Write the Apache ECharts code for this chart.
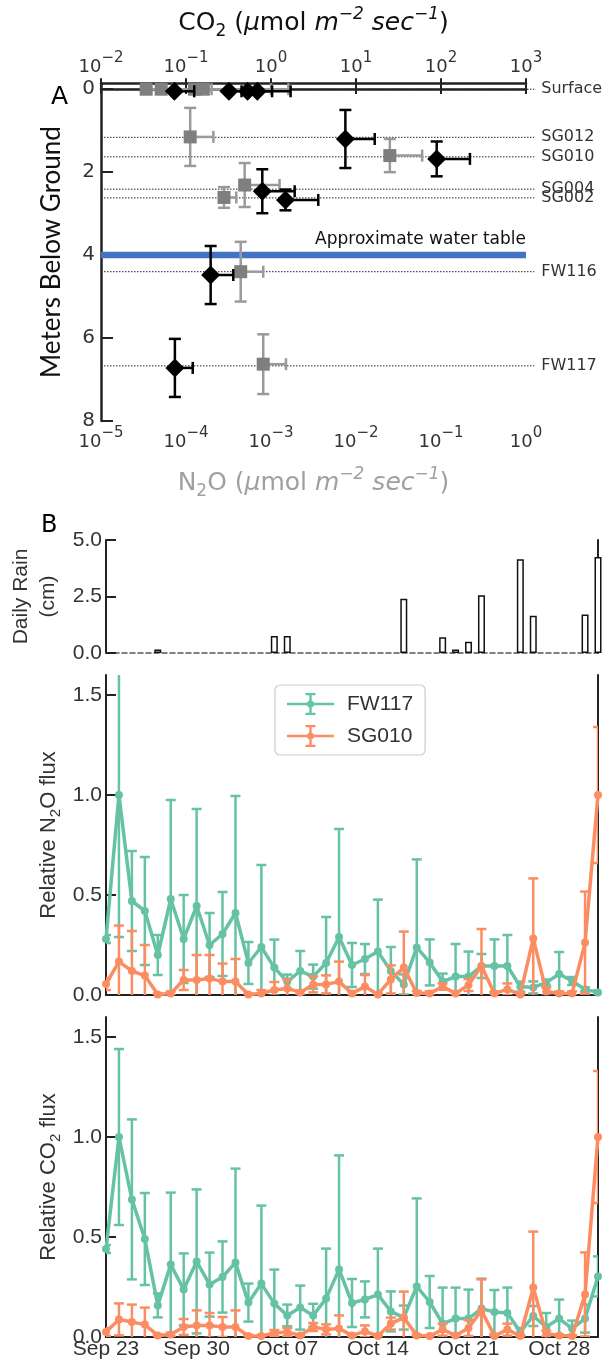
<!DOCTYPE html>
<html>
<head>
<meta charset="utf-8">
<script src="https://cdn.jsdelivr.net/npm/echarts@6/dist/echarts.min.js"></script>
<style>
html, body { margin: 0; padding: 0; background: #fff; }
#chart { width: 609px; height: 1364px; }
</style>
</head>
<body>
<div id="chart"></div>
<script>
// ---- panel A : flux vs depth ----
const wellNames = ['Surface', 'SG012', 'SG010', 'SG004', 'SG002', 'FW116', 'FW117'];
const wellDepths = [0, 1.16, 1.63, 2.41, 2.62, 4.4, 6.67];
const waterTableDepth = 4.0;
const depthTicks = [0, 2, 4, 6, 8];

// black diamonds, CO2 (top axis)
const co2Depth = [0.05, 0.05, 0.05, 0.05, 1.2, 1.68, 2.46, 2.67, 4.48, 6.72];
const co2Flux = [0.073, 0.32, 0.53, 0.69, 7.5, 89, 0.79, 1.48, 0.195, 0.074];
const co2FluxHi = [0.125, 0.45, 1.03, 1.7, 16.6, 219, 1.9, 3.6, 0.36, 0.12];
const co2DepthErr = [0.04, 0.04, 0.04, 0.04, 0.7, 0.42, 0.53, 0.25, 0.7, 0.7];

// grey squares, N2O (bottom axis)
const n2oDepth = [0, 0, 0, 0, 1.15, 1.6, 2.31, 2.61, 4.4, 6.63];
const n2oFlux = [3.4e-5, 5.1e-5, 1.26e-4, 1.6e-4, 1.12e-4, 0.025, 4.9e-4, 2.8e-4, 4.4e-4, 8.1e-4];
const n2oFluxHi = [7e-5, 2e-4, 1e-3, 1.6e-3, 2.1e-4, 0.06, 1.26e-3, 3.9e-4, 8.1e-4, 1.5e-3];
const n2oDepthErr = [0.05, 0.05, 0.05, 0.05, 0.7, 0.4, 0.53, 0.25, 0.72, 0.72];

// ---- panel B : time series ----
const dates = ['Sep 23', 'Sep 24', 'Sep 25', 'Sep 26', 'Sep 27', 'Sep 28', 'Sep 29', 'Sep 30',
  'Oct 01', 'Oct 02', 'Oct 03', 'Oct 04', 'Oct 05', 'Oct 06', 'Oct 07', 'Oct 08', 'Oct 09',
  'Oct 10', 'Oct 11', 'Oct 12', 'Oct 13', 'Oct 14', 'Oct 15', 'Oct 16', 'Oct 17', 'Oct 18',
  'Oct 19', 'Oct 20', 'Oct 21', 'Oct 22', 'Oct 23', 'Oct 24', 'Oct 25', 'Oct 26', 'Oct 27',
  'Oct 28', 'Oct 29', 'Oct 30', 'Oct 31'];
const rainCm = [0, 0, 0, 0, 0.15, 0, 0, 0, 0, 0, 0, 0, 0, 0.75, 0.75, 0, 0, 0, 0, 0, 0, 0, 0, 2.4,
  0, 0, 0.7, 0.15, 0.5, 2.55, 0, 0, 4.15, 1.65, 0, 0, 0, 1.7, 4.25];
const rainTicks = [0, 2.5, 5.0];
const relTicks = [0, 0.5, 1.0, 1.5];

const n2oFw117 = [0.28, 1.0, 0.47, 0.42, 0.20, 0.48, 0.28, 0.445, 0.25, 0.305, 0.41, 0.16, 0.24,
  0.137, 0.067, 0.12, 0.092, 0.16, 0.29, 0.15, 0.18, 0.217, 0.12, 0.053, 0.238, 0.163, 0.067,
  0.092, 0.092, 0.145, 0.145, 0.145, 0.042, 0.038, 0.062, 0.105, 0.07, 0.028, 0.013];
const n2oFw117Err = [0.02, 0.71, 0.25, 0.27, 0.10, 0.495, 0.22, 0.485, 0.16, 0.21, 0.585, 0.105,
  0.41, 0.14, 0.035, 0.10, 0.06, 0.23, 0.54, 0.11, 0.075, 0.26, 0.12, 0.05, 0.44, 0.115, 0.04,
  0.163, 0.125, 0.06, 0.133, 0.155, 0.025, 0.03, 0.015, 0.11, 0.02, 0.01, 0.01];
const n2oSg010 = [0.055, 0.167, 0.12, 0.097, 0.003, 0.008, 0.075, 0.075, 0.083, 0.067, 0.067,
  0.003, 0.008, 0.025, 0.033, 0.013, 0.053, 0.053, 0.067, 0.008, 0.042, 0.003, 0.078, 0.137,
  0.01, 0.008, 0.042, 0.008, 0.05, 0.145, 0.008, 0.028, 0.003, 0.283, 0.017, 0.008, 0.008,
  0.262, 1.0];
const n2oSg010Err = [0.03, 0.18, 0.2, 0.153, 0.005, 0.01, 0.05, 0.125, 0.117, 0.09, 0.113, 0.005,
  0.017, 0.04, 0.045, 0.01, 0.04, 0.045, 0.1, 0.01, 0.058, 0.005, 0.07, 0.18, 0.01, 0.01, 0.016,
  0.01, 0.03, 0.185, 0.01, 0.03, 0.005, 0.3, 0.02, 0.01, 0.01, 0.255, 0.34];

const co2Fw117 = [0.44, 1.0, 0.688, 0.49, 0.158, 0.362, 0.238, 0.378, 0.262, 0.30, 0.372, 0.172,
  0.267, 0.167, 0.108, 0.147, 0.108, 0.192, 0.338, 0.17, 0.188, 0.212, 0.128, 0.097, 0.253,
  0.175, 0.067, 0.092, 0.092, 0.142, 0.125, 0.12, 0.025, 0.105, 0.05, 0.092, 0.042, 0.092, 0.303];
const co2Fw117Err = [0.02, 0.44, 0.40, 0.23, 0.06, 0.36, 0.18, 0.36, 0.16, 0.178, 0.47, 0.095,
  0.39, 0.17, 0.054, 0.11, 0.058, 0.25, 0.57, 0.12, 0.09, 0.23, 0.10, 0.06, 0.44, 0.13, 0.18,
  0.155, 0.145, 0.15, 0.11, 0.127, 0.02, 0.05, 0.07, 0.095, 0.04, 0.07, 0.1];
const co2Sg010 = [0.025, 0.088, 0.075, 0.062, 0.008, 0.012, 0.05, 0.058, 0.058, 0.05, 0.05, 0.005,
  0.005, 0.02, 0.025, 0.008, 0.05, 0.038, 0.042, 0.008, 0.028, 0.005, 0.067, 0.097, 0.008,
  0.005, 0.037, 0.008, 0.045, 0.133, 0.005, 0.037, 0.005, 0.247, 0.017, 0.008, 0.005, 0.213, 1.0];
const co2Sg010Err = [0.02, 0.08, 0.087, 0.085, 0.005, 0.01, 0.04, 0.075, 0.062, 0.05, 0.083,
  0.005, 0.005, 0.015, 0.02, 0.005, 0.02, 0.025, 0.066, 0.005, 0.03, 0.005, 0.03, 0.13, 0.005,
  0.005, 0.03, 0.005, 0.04, 0.155, 0.005, 0.03, 0.005, 0.28, 0.015, 0.005, 0.005, 0.21, 0.33];

const GREEN = '#66c2a5';
const ORANGE = '#fc8d62';
const AX = '#222';
const TXT = '#333';
const SANS = 'Liberation Sans';
const WIDE = 'DejaVu Sans';
const CAL = 'Lato';

var chart = echarts.init(document.getElementById('chart'));

// 10^n tick labels
function powLabel(v) {
  var e = Math.round(Math.log10(v));
  return '{b|10}{s|' + (e < 0 ? '\u2212' + (-e) : e) + '}';
}
var powRich = {
  b: { fontSize: 18, lineHeight: 32, fontFamily: WIDE, color: TXT },
  s: { fontSize: 15, verticalAlign: 'top', fontFamily: WIDE, color: TXT }
};
// units text with sub/superscripts
function unitRich(color) {
  return {
    n: { fontSize: 25, lineHeight: 34, fontFamily: WIDE, color: color },
    i: { fontSize: 25, lineHeight: 34, fontFamily: WIDE, fontStyle: 'italic', color: color },
    u: { fontSize: 17, verticalAlign: 'top', fontFamily: WIDE, fontStyle: 'italic', color: color },
    d: { fontSize: 17, verticalAlign: 'bottom', fontFamily: WIDE, color: color }
  };
}
function subRich() {
  return {
    n: { fontSize: 22, lineHeight: 28, fontFamily: SANS, color: TXT },
    d: { fontSize: 15, verticalAlign: 'bottom', fontFamily: SANS, color: TXT }
  };
}

function seg(x1, y1, x2, y2, st) {
  return { type: 'line', shape: { x1: x1, y1: y1, x2: x2, y2: y2 }, style: st };
}

// vertical error bars for time series
function errBars(color) {
  return function (params, api) {
    var i = api.value(0), v = api.value(1), e = api.value(2);
    var top = api.coord([i, v + e]);
    var bot = api.coord([i, v - e]);
    var st = { stroke: color, lineWidth: 2.5 };
    return { type: 'group', children: [
      seg(top[0], top[1], bot[0], bot[1], st),
      seg(top[0] - 5, top[1], top[0] + 5, top[1], st),
      seg(bot[0] - 5, bot[1], bot[0] + 5, bot[1], st)
    ] };
  };
}

// horizontal (upper only) + vertical error bars for panel A
function xyErr(color) {
  return function (params, api) {
    var x = api.value(0), d = api.value(1), hi = api.value(2), de = api.value(3);
    var c = api.coord([x, d]), r = api.coord([hi, d]);
    var t = api.coord([x, d - de]), b = api.coord([x, d + de]);
    var st = { stroke: color, lineWidth: 2.5 };
    return { type: 'group', children: [
      seg(c[0], c[1], r[0], r[1], st),
      seg(r[0], r[1] - 6, r[0], r[1] + 6, st),
      seg(t[0], t[1], b[0], b[1], st),
      seg(t[0] - 6, t[1], t[0] + 6, t[1], st),
      seg(b[0] - 6, b[1], b[0] + 6, b[1], st)
    ] };
  };
}

var tickIn = { inside: true, length: 11, lineStyle: { color: AX, width: 2 } };

function relAxis(grid, name) {
  return {
    type: 'value', gridIndex: grid, min: 0, max: 1.6,
    axisLine: { show: true, lineStyle: { color: AX, width: 2 } },
    axisTick: { show: true, inside: true, length: 10, customValues: relTicks, lineStyle: { color: AX, width: 2 } },
    axisLabel: { customValues: relTicks, formatter: function (v) { return v.toFixed(1); },
      fontSize: 21, color: TXT, fontFamily: SANS, margin: 4 },
    splitLine: { show: false },
    name: name, nameLocation: 'middle', nameGap: 43, nameMoveOverlap: false,
    nameTextStyle: { rich: subRich() }
  };
}
function rightSpine(grid, max) {
  return {
    type: 'value', gridIndex: grid, position: 'right', min: 0, max: max,
    axisLine: { show: true, lineStyle: { color: AX, width: 2 } },
    axisTick: { show: false }, axisLabel: { show: false }, splitLine: { show: false }
  };
}
function dateAxis(grid, showLabels, dashed) {
  return {
    type: 'category', gridIndex: grid, data: dates, boundaryGap: false,
    axisLine: { show: true, lineStyle: dashed ? { color: '#555', width: 1.5, type: [5, 3] } : { color: AX, width: 2 } },
    axisTick: { show: false },
    axisLabel: { show: showLabels, interval: 6, fontSize: 21, color: TXT, fontFamily: SANS, margin: 2 },
    splitLine: { show: false }
  };
}
function errSeries(xi, yi, vals, errs, color, z) {
  return {
    type: 'custom', xAxisIndex: xi, yAxisIndex: yi, clip: true, z: z, silent: true,
    encode: { x: 0, y: 1 },
    data: vals.map(function (v, i) { return [i, v, errs[i]]; }),
    renderItem: errBars(color)
  };
}
function lineSeries(xi, yi, name, vals, color, z) {
  return {
    type: 'line', name: name, xAxisIndex: xi, yAxisIndex: yi, z: z,
    data: vals, symbol: 'circle', symbolSize: 8, showSymbol: true,
    lineStyle: { color: color, width: 3.5 },
    itemStyle: { color: color, borderWidth: 0 }
  };
}

var legendIcon = 'path://M0,9.7h47v2.6h-47z M22.3,0h2.4v22h-2.4z M18.5,0h10v2.2h-10z M18.5,19.8h10v2.2h-10z M20,11a3.5,3.5 0 1,1 7,0a3.5,3.5 0 1,1 -7,0z';

var option = {
  animation: false,
  backgroundColor: '#fff',
  textStyle: { fontFamily: SANS },
  title: [
    { text: 'A', left: 46, top: 80, textStyle: { fontSize: 25, fontWeight: 'normal', color: '#000', fontFamily: WIDE } },
    { text: 'B', left: 36, top: 509, textStyle: { fontSize: 24, fontWeight: 'normal', color: '#000', fontFamily: WIDE } }
  ],
  legend: {
    data: ['FW117', 'SG010'], orient: 'vertical', left: 275, top: 685,
    icon: legendIcon, itemWidth: 47, itemHeight: 22, itemGap: 10,
    padding: [8, 12], borderColor: '#cccccc', borderWidth: 1.2, borderRadius: 5,
    backgroundColor: '#fff',
    itemStyle: { borderWidth: 0 },
    textStyle: { fontSize: 21, color: TXT, fontFamily: SANS, padding: [0, 0, 0, 8] }
  },
  grid: [
    { left: 101, top: 83, width: 425, height: 338, containLabel: false, outerBoundsMode: 'none' },
    { left: 106, top: 540, width: 492, height: 113, containLabel: false, outerBoundsMode: 'none' },
    { left: 106, top: 675, width: 492, height: 320, containLabel: false, outerBoundsMode: 'none' },
    { left: 106, top: 1017, width: 492, height: 320, containLabel: false, outerBoundsMode: 'none' }
  ],
  xAxis: [
    {
      type: 'log', logBase: 10, gridIndex: 0, position: 'bottom', min: 1e-5, max: 1,
      axisLine: { show: true, lineStyle: { color: AX, width: 2.5 } },
      axisTick: tickIn, minorTick: { show: false }, splitLine: { show: false },
      axisLabel: { formatter: powLabel, rich: powRich, margin: 5 },
      name: '{n|N}{d|2}{n|O (}{i|\u03bc}{n|mol }{i|m}{u|\u22122}{i| sec}{u|\u22121}{n|)}',
      nameLocation: 'middle', nameGap: 45, nameMoveOverlap: false,
      nameTextStyle: { rich: unitRich('#a0a0a0') }
    },
    {
      type: 'log', logBase: 10, gridIndex: 0, position: 'top', min: 1e-2, max: 1e3,
      axisLine: { show: true, lineStyle: { color: AX, width: 2.5 } },
      axisTick: tickIn, minorTick: { show: false }, splitLine: { show: false },
      axisLabel: { formatter: powLabel, rich: powRich, margin: 0 },
      name: '{n|CO}{d|2}{n| (}{i|\u03bc}{n|mol }{i|m}{u|\u22122}{i| sec}{u|\u22121}{n|)}',
      nameLocation: 'middle', nameGap: 43, nameMoveOverlap: false,
      nameTextStyle: { rich: unitRich('#111') }
    },
    dateAxis(1, false, true),
    dateAxis(2, false, false),
    dateAxis(3, true, false)
  ],
  yAxis: [
    {
      type: 'value', gridIndex: 0, inverse: true, min: -0.15, max: 8,
      axisLine: { show: true, lineStyle: { color: AX, width: 2.5 } },
      axisTick: { show: true, inside: true, length: 12, customValues: depthTicks, lineStyle: { color: AX, width: 2 } },
      axisLabel: { customValues: depthTicks, fontSize: 20, color: TXT, fontFamily: WIDE, margin: 6 },
      splitLine: { show: false },
      name: 'Meters Below Ground', nameLocation: 'middle', nameGap: 34, nameMoveOverlap: false,
      nameTextStyle: { fontSize: 26, color: '#111', fontFamily: CAL, lineHeight: 30 }
    },
    {
      type: 'value', gridIndex: 1, min: 0, max: 5,
      axisLine: { show: true, lineStyle: { color: AX, width: 2 } },
      axisTick: { show: true, inside: true, length: 10, customValues: rainTicks, lineStyle: { color: AX, width: 2 } },
      axisLabel: { customValues: rainTicks, formatter: function (v) { return v.toFixed(1); },
        fontSize: 21, color: TXT, fontFamily: SANS, margin: 4 },
      splitLine: { show: false },
      name: 'Daily Rain\n(cm)', nameLocation: 'middle', nameGap: 44, nameMoveOverlap: false,
      nameTextStyle: { fontSize: 21, color: TXT, fontFamily: SANS, lineHeight: 27 }
    },
    rightSpine(1, 5),
    relAxis(2, '{n|Relative N}{d|2}{n|O flux}'),
    rightSpine(2, 1.6),
    relAxis(3, '{n|Relative CO}{d|2}{n| flux}'),
    rightSpine(3, 1.6)
  ],
  series: [
    // sampling depths: dotted guide lines + labels
    {
      type: 'custom', xAxisIndex: 0, yAxisIndex: 0, clip: false, z: 1, silent: true,
      data: wellDepths.map(function (d) { return [1e-5, d]; }),
      renderItem: function (params, api) {
        var d = api.value(1);
        var a = api.coord([1e-5, d]);
        var e = api.coord([1.25, d]);
        return { type: 'group', children: [
          seg(a[0], a[1], e[0], e[1], { stroke: '#222', lineWidth: 1, lineDash: [1.5, 1.5] }),
          { type: 'text', x: e[0] + 7, y: e[1], style: { text: wellNames[params.dataIndex], fill: TXT,
            fontSize: 16, fontFamily: WIDE, align: 'left', verticalAlign: 'middle' } }
        ] };
      }
    },
    // water table
    {
      type: 'custom', xAxisIndex: 0, yAxisIndex: 0, clip: false, z: 2, silent: true,
      data: [[1e-5, waterTableDepth]],
      renderItem: function (params, api) {
        var d = api.value(1);
        var a = api.coord([1e-5, d]);
        var e = api.coord([1, d]);
        return { type: 'group', children: [
          seg(a[0], a[1], e[0], e[1], { stroke: '#4472c4', lineWidth: 6.5 }),
          { type: 'text', x: e[0], y: e[1] - 7, style: { text: 'Approximate water table', fill: '#111',
            fontSize: 17, fontFamily: WIDE, align: 'right', verticalAlign: 'bottom' } }
        ] };
      }
    },
    {
      type: 'custom', xAxisIndex: 0, yAxisIndex: 0, z: 3, silent: true, encode: { x: 0, y: 1 },
      data: n2oFlux.map(function (v, i) { return [v, n2oDepth[i], n2oFluxHi[i], n2oDepthErr[i]]; }),
      renderItem: xyErr('#9a9a9a')
    },
    {
      type: 'scatter', xAxisIndex: 0, yAxisIndex: 0, z: 4, symbol: 'rect', symbolSize: 13,
      data: n2oFlux.map(function (v, i) { return [v, n2oDepth[i]]; }),
      itemStyle: { color: '#7f7f7f', opacity: 1 }
    },
    {
      type: 'custom', xAxisIndex: 1, yAxisIndex: 0, z: 5, silent: true, encode: { x: 0, y: 1 },
      data: co2Flux.map(function (v, i) { return [v, co2Depth[i], co2FluxHi[i], co2DepthErr[i]]; }),
      renderItem: xyErr('#000')
    },
    {
      type: 'scatter', xAxisIndex: 1, yAxisIndex: 0, z: 6, symbol: 'diamond', symbolSize: 19,
      data: co2Flux.map(function (v, i) { return [v, co2Depth[i]]; }),
      itemStyle: { color: '#000', opacity: 1 }
    },
    // rain
    {
      type: 'bar', xAxisIndex: 2, yAxisIndex: 1, barWidth: 7, silent: true,
      data: rainCm.map(function (v) { return v > 0 ? v : '-'; }),
      itemStyle: { color: '#fff', borderColor: '#111', borderWidth: 1.5 }
    },
    // relative N2O
    errSeries(3, 3, n2oFw117, n2oFw117Err, GREEN, 2),
    lineSeries(3, 3, 'FW117', n2oFw117, GREEN, 3),
    errSeries(3, 3, n2oSg010, n2oSg010Err, ORANGE, 4),
    lineSeries(3, 3, 'SG010', n2oSg010, ORANGE, 5),
    // relative CO2
    errSeries(4, 5, co2Fw117, co2Fw117Err, GREEN, 2),
    lineSeries(4, 5, 'FW117', co2Fw117, GREEN, 3),
    errSeries(4, 5, co2Sg010, co2Sg010Err, ORANGE, 4),
    lineSeries(4, 5, 'SG010', co2Sg010, ORANGE, 5)
  ]
};
chart.setOption(option);
</script>
</body>
</html>
